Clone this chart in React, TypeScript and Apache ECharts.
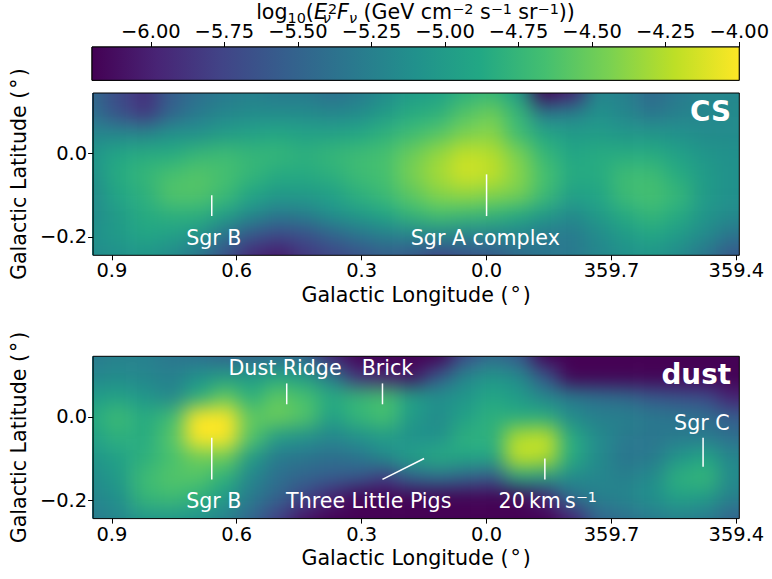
import React, { useEffect, useRef } from "react";
import * as echarts from "echarts";

const FONT = "DejaVu Sans";
const TICK_SIZE = 19.44;
const TEXT_SIZE = 20.6;
const VIRIDIS = ["#440154","#482475","#414487","#355f8d","#2a788e","#21918c","#22a884","#44bf70","#7ad151","#bddf26","#fde725"];

// Sampled longitudes (deg, 0.945 on the left to -0.607 = 359.393 on the right)
const LON = [0.945,0.88,0.815,0.75,0.686,0.621,0.556,0.492,0.427,0.362,0.298,0.233,0.168,0.104,0.039,-0.026,-0.09,-0.155,-0.22,-0.284,-0.349,-0.414,-0.478,-0.543,-0.607];
const LAT = [0.145,0.096,0.047,-0.002,-0.05,-0.098,-0.147,-0.195,-0.244];

const CS_ROWS = [
  [-5.45,-5.7,-5.9,-5.55,-5.4,-5.3,-5.25,-5.3,-5.3,-5.4,-5.3,-5.15,-5.0,-4.95,-4.8,-4.75,-5.0,-6.2,-6.0,-5.2,-5.25,-5.45,-5.3,-5.2,-5.2],
  [-5.4,-5.65,-5.85,-5.5,-5.3,-5.2,-5.15,-5.15,-5.15,-5.2,-5.15,-5.0,-4.85,-4.8,-4.6,-4.5,-4.75,-5.3,-5.25,-5.1,-5.2,-5.35,-5.25,-5.2,-5.15],
  [-5.2,-5.2,-5.2,-5.1,-5.1,-5.0,-4.95,-4.9,-4.95,-4.95,-4.9,-4.8,-4.7,-4.6,-4.45,-4.4,-4.7,-4.9,-5.0,-5.0,-5.05,-5.05,-5.1,-5.15,-5.15],
  [-5.05,-4.9,-4.85,-4.85,-4.75,-4.7,-4.75,-4.75,-4.8,-4.75,-4.7,-4.65,-4.5,-4.35,-4.2,-4.25,-4.45,-4.75,-4.9,-4.85,-4.85,-4.85,-4.95,-5.05,-5.1],
  [-5.1,-4.85,-4.75,-4.65,-4.6,-4.65,-4.75,-4.85,-4.85,-4.8,-4.7,-4.65,-4.45,-4.3,-4.15,-4.2,-4.4,-4.65,-4.85,-4.85,-4.7,-4.7,-4.85,-5.0,-5.1],
  [-5.15,-4.9,-4.8,-4.6,-4.6,-4.7,-4.9,-5.0,-5.0,-4.95,-4.8,-4.7,-4.55,-4.4,-4.35,-4.4,-4.45,-4.7,-4.95,-4.9,-4.7,-4.65,-4.75,-5.0,-5.1],
  [-5.15,-5.0,-4.85,-4.8,-4.8,-4.95,-5.15,-5.3,-5.25,-5.1,-5.0,-4.9,-4.75,-4.65,-4.7,-4.75,-4.85,-5.0,-5.15,-5.0,-4.85,-4.75,-4.85,-5.05,-5.15],
  [-5.1,-5.0,-4.9,-4.95,-5.05,-5.35,-5.6,-5.7,-5.65,-5.5,-5.35,-5.25,-5.2,-5.15,-5.2,-5.2,-5.2,-5.3,-5.3,-5.15,-5.0,-4.9,-5.0,-5.15,-5.35],
  [-5.15,-5.1,-5.05,-5.15,-5.35,-5.65,-5.95,-6.05,-5.85,-5.75,-5.65,-5.55,-5.6,-5.75,-5.65,-5.6,-5.45,-5.35,-5.3,-5.2,-5.1,-5.05,-5.15,-5.35,-5.6],
];

const DUST_ROWS = [
  [-5.3,-5.25,-5.25,-5.35,-5.4,-5.5,-5.5,-5.45,-5.5,-6.0,-6.2,-6.2,-6.2,-6.2,-5.7,-5.45,-5.6,-6.2,-6.2,-6.2,-6.2,-6.2,-6.2,-6.2,-6.2],
  [-5.2,-5.15,-5.2,-5.25,-5.1,-5.0,-5.0,-4.9,-5.0,-5.3,-5.9,-6.0,-6.1,-5.6,-5.2,-5.05,-5.15,-5.6,-6.2,-6.2,-6.2,-6.2,-6.2,-6.2,-6.2],
  [-5.0,-4.95,-5.05,-5.2,-4.85,-4.55,-4.8,-4.55,-4.65,-4.85,-4.75,-4.65,-4.95,-5.1,-5.05,-4.9,-5.0,-5.2,-5.3,-5.4,-5.45,-5.6,-5.65,-5.7,-6.0],
  [-4.85,-4.7,-4.85,-4.7,-4.0,-4.0,-4.55,-4.5,-4.6,-4.95,-4.75,-4.65,-5.0,-5.15,-4.95,-4.8,-4.85,-4.85,-5.15,-5.25,-5.25,-5.3,-5.35,-5.4,-5.55],
  [-4.95,-4.8,-4.85,-4.6,-4.0,-4.0,-4.6,-5.0,-5.1,-5.2,-5.1,-5.0,-5.1,-5.1,-4.8,-4.8,-4.25,-4.2,-4.85,-5.15,-5.3,-5.35,-5.3,-5.3,-5.4],
  [-5.05,-4.95,-4.8,-4.65,-4.5,-4.5,-5.0,-5.3,-5.35,-5.4,-5.35,-5.15,-4.95,-4.85,-4.9,-4.9,-4.2,-4.25,-4.85,-5.15,-5.35,-5.3,-5.05,-4.9,-5.2],
  [-5.15,-5.0,-4.7,-4.6,-4.6,-4.8,-5.2,-5.4,-5.5,-5.55,-5.6,-5.8,-5.5,-5.4,-5.5,-5.6,-4.95,-5.0,-5.15,-5.2,-5.25,-5.15,-4.8,-4.75,-5.15],
  [-5.2,-5.1,-4.75,-4.7,-4.8,-5.0,-5.3,-5.5,-5.75,-6.0,-6.2,-6.2,-6.2,-6.2,-6.2,-6.2,-6.2,-6.0,-5.4,-5.25,-5.2,-5.1,-4.95,-5.0,-5.25],
  [-5.3,-5.2,-5.05,-5.05,-5.1,-5.25,-5.5,-5.8,-6.1,-6.2,-6.2,-6.2,-6.2,-6.2,-6.2,-6.2,-6.2,-6.2,-6.0,-5.5,-5.4,-5.3,-5.25,-5.3,-5.5],
];

const LON_TICKS = [0.9, 0.6, 0.3, 0, -0.3, -0.6];
const LAT_TICKS = [-0.2, 0];
const CBAR_TICKS = [-6, -5.75, -5.5, -5.25, -5, -4.75, -4.5, -4.25, -4];

const CS_LINES = [[0.66,-0.1,0.66,-0.15],[0,-0.05,0,-0.15]];
const CS_LABELS = [
  { text: "Sgr B", lon: 0.655, lat: -0.202 },
  { text: "Sgr A complex", lon: 0.003, lat: -0.202 },
];
const DUST_LINES = [[0.66,-0.05,0.66,-0.15],[0.48,0.08,0.48,0.03],[0.25,0.08,0.25,0.03],[0.25,-0.15,0.15,-0.1],[-0.14,-0.1,-0.14,-0.15],[-0.52,-0.05,-0.52,-0.12]];
const DUST_LABELS = [
  { text: "Sgr B", lon: 0.655, lat: -0.202 },
  { text: "Dust Ridge", lon: 0.484, lat: 0.116 },
  { text: "Brick", lon: 0.238, lat: 0.116 },
  { text: "Three Little Pigs", lon: 0.283, lat: -0.202 },
  { text: "{m|20\u2009km\u2009s}{s|\u22121}", lon: -0.147, lat: -0.202 },
  { text: "Sgr C", lon: -0.517, lat: -0.014 },
];

const L = 92, W = 647.3, T1 = 93, T2 = 356.3, H = 162.3, CB_T = 47, CB_H = 33.3;
const COL = W / 24, ROW = H / 8;

function heatItems(rows: number[][]) {
  // one repeated ring of edge cells so that the soft edge falls outside the frame
  const out: number[][] = [];
  for (let r = -1; r <= rows.length; r++) {
    const row = rows[Math.min(rows.length - 1, Math.max(0, r))];
    for (let c = -1; c <= row.length; c++) {
      out.push([c + 1, r + 1, row[Math.min(row.length - 1, Math.max(0, c))]]);
    }
  }
  return out;
}

const minus = (s: string) => s.replace("-", "\u2212");

function panelAxes(gridIndex: number) {
  return {
    x: {
      type: "value", gridIndex, inverse: true, min: -0.607, max: 0.945,
      name: "Galactic Longitude (\u200a\u00b0\u200a)", nameLocation: "middle", nameGap: 29,
      nameTextStyle: { fontFamily: FONT, fontSize: TEXT_SIZE, color: "#000" },
      splitLine: { show: false },
      axisLine: { show: false, onZero: false },
      axisTick: { show: true, length: 5, lineStyle: { color: "#000", width: 1 }, customValues: LON_TICKS },
      axisLabel: {
        margin: 6, fontFamily: FONT, fontSize: TICK_SIZE, color: "#000", customValues: LON_TICKS,
        showMinLabel: true, showMaxLabel: true, hideOverlap: false,
        formatter: (v: number) => (v < -1e-9 ? 360 + v : Math.abs(v)).toFixed(1),
      },
    },
    y: {
      type: "value", gridIndex, min: -0.244, max: 0.145,
      name: "Galactic Latitude (\u200a\u00b0\u200a)", nameLocation: "middle", nameGap: 59,
      nameTextStyle: { fontFamily: FONT, fontSize: TEXT_SIZE, color: "#000" },
      splitLine: { show: false },
      axisLine: { show: false, onZero: false },
      axisTick: { show: true, length: 5, lineStyle: { color: "#000", width: 1 }, customValues: LAT_TICKS },
      axisLabel: {
        margin: 6, fontFamily: FONT, fontSize: TICK_SIZE, color: "#000", customValues: LAT_TICKS,
        formatter: (v: number) => minus(v.toFixed(1)),
      },
    },
  };
}

function lineSeries(idx: number, lines: number[][]) {
  return {
    type: "custom", xAxisIndex: idx, yAxisIndex: idx, silent: true, z: 5,
    encode: { x: [0, 2], y: [1, 3] }, data: lines,
    renderItem: (_: any, api: any) => {
      const a = api.coord([api.value(0), api.value(1)]);
      const b = api.coord([api.value(2), api.value(3)]);
      return { type: "line", shape: { x1: a[0], y1: a[1], x2: b[0], y2: b[1] }, style: { stroke: "#fff", lineWidth: 1.5 } };
    },
  };
}

function labelSeries(idx: number, labels: { text: string; lon: number; lat: number }[]) {
  return {
    type: "custom", xAxisIndex: idx, yAxisIndex: idx, silent: true, z: 6,
    encode: { x: 0, y: 1 }, data: labels.map((d) => [d.lon, d.lat]),
    renderItem: (p: any, api: any) => {
      const c = api.coord([api.value(0), api.value(1)]);
      return {
        type: "text", x: c[0], y: c[1],
        style: {
          text: labels[p.dataIndex].text, fill: "#fff", fontFamily: FONT, fontSize: TEXT_SIZE,
          align: "center", verticalAlign: "middle",
          rich: {
            m: { fontFamily: FONT, fontSize: TEXT_SIZE, fill: "#fff", color: "#fff", lineHeight: 24 },
            s: { fontFamily: FONT, fontSize: 14.4, fill: "#fff", color: "#fff", verticalAlign: "top", height: 16 },
          },
        },
      };
    },
  };
}

const titleMain = { fontFamily: FONT, fontSize: TEXT_SIZE, color: "#000", lineHeight: 24 };
const titleIt = { ...titleMain, fontStyle: "italic" };
const titleSup = { fontFamily: FONT, fontSize: 14.4, color: "#000", verticalAlign: "top", height: 18 };
const titleSub = { fontFamily: FONT, fontSize: 14.4, color: "#000", verticalAlign: "bottom", height: 12 };
const titleSubIt = { ...titleSub, fontStyle: "italic" };

export default function App() {
  const under = useRef<HTMLDivElement>(null);
  const over = useRef<HTMLDivElement>(null);

  useEffect(() => {
    const heat = echarts.init(under.current!, undefined, { renderer: "svg" });
    const cols = Array.from({ length: LON.length + 2 }, (_, i) => String(i));
    const rows = Array.from({ length: LAT.length + 2 }, (_, i) => String(i));
    const hGrid = (top: number) => ({ left: L - 1.5 * COL, top: top - 1.5 * ROW, width: W + 3 * COL, height: H + 3 * ROW });
    const hx = (gridIndex: number) => ({ type: "category", gridIndex, data: cols, show: false });
    const hy = (gridIndex: number) => ({ type: "category", gridIndex, data: rows, inverse: true, show: false });
    heat.setOption({
      animation: false,
      grid: [hGrid(T1), hGrid(T2)],
      xAxis: [hx(0), hx(1)],
      yAxis: [hy(0), hy(1)],
      visualMap: { show: false, min: -6.2, max: -4, dimension: 2, seriesIndex: [0, 1], inRange: { color: VIRIDIS } },
      series: [
        { type: "heatmap", xAxisIndex: 0, yAxisIndex: 0, data: heatItems(CS_ROWS), progressive: 0, silent: true },
        { type: "heatmap", xAxisIndex: 1, yAxisIndex: 1, data: heatItems(DUST_ROWS), progressive: 0, silent: true },
      ],
    });

    const chart = echarts.init(over.current!, undefined, { renderer: "svg" });
    const a0 = panelAxes(0), a1 = panelAxes(1);
    const frame = { show: true, borderColor: "#000", borderWidth: 1, backgroundColor: "transparent", left: L, width: W, height: H };
    chart.setOption({
      animation: false,
      backgroundColor: "transparent",
      grid: [
        { ...frame, top: T1 },
        { ...frame, top: T2 },
        { ...frame, top: CB_T, height: CB_H },
      ],
      xAxis: [
        a0.x, a1.x,
        {
          type: "value", gridIndex: 2, position: "top", min: -6.2, max: -4,
          splitLine: { show: false }, axisLine: { show: false, onZero: false },
          axisTick: { show: true, length: 5, lineStyle: { color: "#000", width: 1 }, customValues: CBAR_TICKS },
          axisLabel: {
            margin: 6, fontFamily: FONT, fontSize: TICK_SIZE, color: "#000", customValues: CBAR_TICKS,
            formatter: (v: number) => minus(v.toFixed(2)),
          },
        },
      ],
      yAxis: [a0.y, a1.y, { type: "value", gridIndex: 2, min: 0, max: 1, show: false }],
      series: [
        lineSeries(0, CS_LINES), labelSeries(0, CS_LABELS),
        lineSeries(1, DUST_LINES), labelSeries(1, DUST_LABELS),
        {
          type: "custom", xAxisIndex: 2, yAxisIndex: 2, silent: true,
          encode: { x: [0, 1] }, data: [[-6.2, -4]],
          renderItem: (_: any, api: any) => {
            const a = api.coord([api.value(0), 1]);
            const b = api.coord([api.value(1), 0]);
            return {
              type: "rect", shape: { x: a[0], y: a[1], width: b[0] - a[0], height: b[1] - a[1] },
              style: {
                stroke: "#000", lineWidth: 1,
                fill: new echarts.graphic.LinearGradient(0, 0, 1, 0, VIRIDIS.map((color, i) => ({ offset: i / (VIRIDIS.length - 1), color }))),
              },
            };
          },
        },
      ],
      graphic: [
        {
          type: "text", x: 415.5, y: 12, z: 10,
          style: {
            align: "center", verticalAlign: "middle",
            text: "{m|log}{b|10}{m|(}{i|E}{bz|\u03bd}{p2|2}{i|F}{bi|\u03bd}{m| (GeV cm}{p|\u22122}{m| s}{p|\u22121}{m| sr}{p|\u22121}{m|))}",
            rich: {
              m: titleMain, i: titleIt, p: titleSup, b: titleSub, bi: titleSubIt,
              p2: { ...titleSup, padding: [0, 0, 0, 1] },
              bz: { ...titleSubIt, width: 0 },
            },
          },
        },
        { type: "text", x: 731, y: 111, z: 10, style: { text: "CS", align: "right", verticalAlign: "middle", fill: "#fff", fontFamily: FONT, fontSize: 27.8, fontWeight: "bold" } },
        { type: "text", x: 731, y: 374, z: 10, style: { text: "dust", align: "right", verticalAlign: "middle", fill: "#fff", fontFamily: FONT, fontSize: 27.8, fontWeight: "bold" } },
      ],
    });
    return () => { heat.dispose(); chart.dispose(); };
  }, []);

  const box: React.CSSProperties = { position: "absolute", left: 0, top: 0, width: 772, height: 579 };
  return (
    <div style={{ position: "fixed", left: 0, top: 0, width: 772, height: 579, background: "#fff", overflow: "hidden" }}>
      <div style={{ ...box, clipPath: `path("M${L} ${T1}H${L + W}V${T1 + H}H${L}Z M${L} ${T2}H${L + W}V${T2 + H}H${L}Z")` }}>
        <div ref={under} style={{ ...box, filter: "blur(10px)" }} />
      </div>
      <div ref={over} style={box} />
    </div>
  );
}
